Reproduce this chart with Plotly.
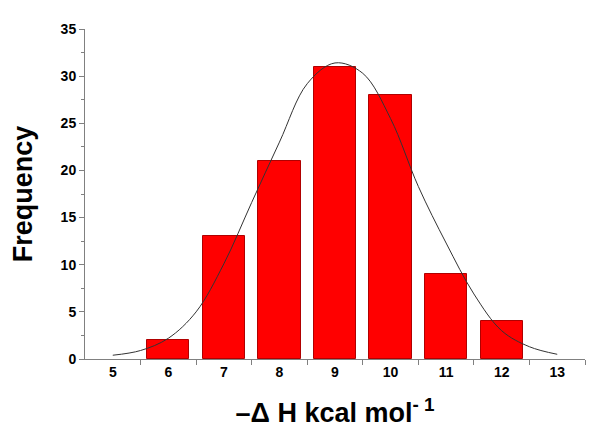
import plotly.graph_objects as go

# histogram data
bins = [6, 7, 8, 9, 10, 11, 12]
counts = [2, 13, 21, 31, 28, 9, 4]

# fitted curve
curve_x = [5, 5.5, 6, 6.5, 7, 7.5, 8, 8.5, 9, 9.5, 10, 10.5, 11, 11.5, 12, 12.5, 13]
curve_y = [0.4, 0.9, 2.2, 5.0, 10.1, 16.6, 23.0, 29.2, 31.4, 30.3, 25.5, 18.3, 12.3, 6.9, 3.0, 1.3, 0.5]

x_ticks = [5, 6, 7, 8, 9, 10, 11, 12, 13]
x_minor = [5.5, 6.5, 7.5, 8.5, 9.5, 10.5, 11.5, 12.5, 13.5]

fig = go.Figure()

fig.add_trace(go.Bar(
    x=bins, y=counts, width=0.76,
    marker=dict(color="#FF0000", line=dict(color="#B00000", width=1)),
))

fig.add_trace(go.Scatter(
    x=curve_x, y=curve_y, mode="lines",
    line=dict(color="#333333", width=1, shape="spline"),
))

axis_font = dict(family="Liberation Sans, Arial", size=14, color="black", weight="bold")
title_font = dict(family="Liberation Sans, Arial", size=27, color="black", weight="bold")

fig.update_xaxes(
    range=[4.5, 13.5], tickvals=x_ticks, ticks="", showgrid=False,
    showline=True, linecolor="#808080", linewidth=1,
    tickfont=axis_font, zeroline=False, automargin=False,
    minor=dict(tickvals=x_minor, ticks="outside", ticklen=5, tickcolor="#808080"),
    title=dict(text="–Δ H kcal mol<sup>- 1</sup>", font=title_font, standoff=24),
)
fig.update_yaxes(
    range=[0, 35], dtick=5, ticks="outside", ticklen=5, tickcolor="#808080",
    showgrid=False, showline=True, linecolor="#808080", linewidth=1,
    tickfont=axis_font, zeroline=False, automargin=False,
    minor=dict(dtick=2.5, ticks="outside", ticklen=3, tickcolor="#808080"),
    title=dict(text="Frequency", font=title_font, standoff=20),
)

# page body has an 8px margin, so the figure is sized to fill the rest
fig.update_layout(
    width=592, height=432,
    margin=dict(l=77, r=15, t=21, b=81),
    showlegend=False,
    plot_bgcolor="white", paper_bgcolor="white",
    bargap=0,
)

fig.write_html("out.html")
